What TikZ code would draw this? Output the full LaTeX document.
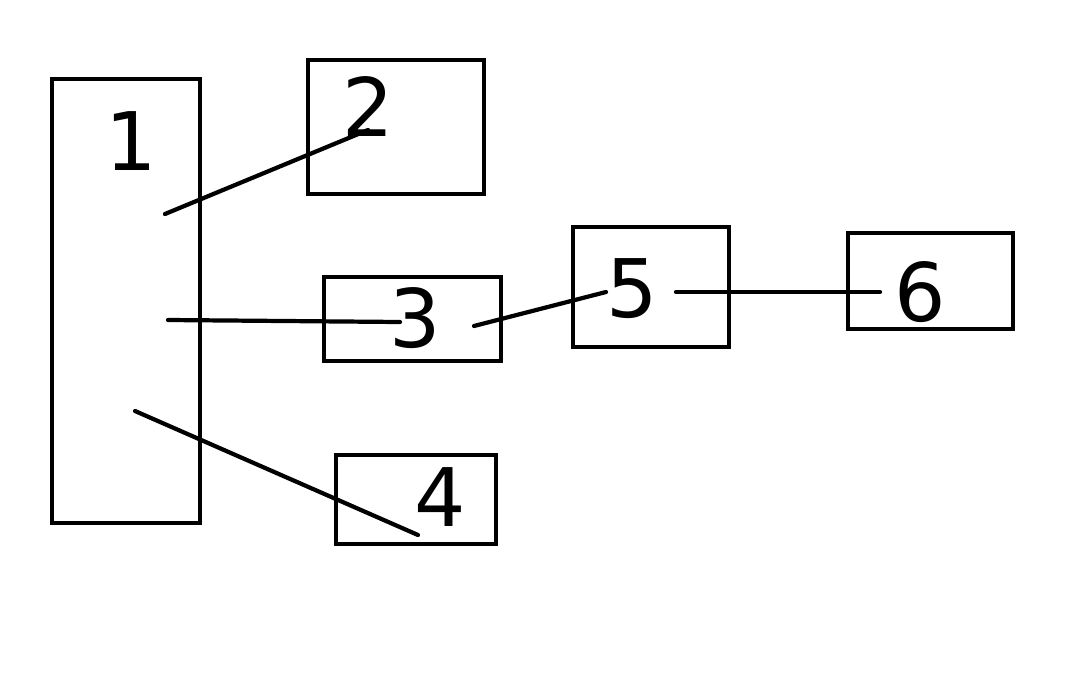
\documentclass[tikz,border=0pt]{standalone}
\usepackage{fontspec}
\setmainfont{DejaVu Sans}

\begin{document}
\begin{tikzpicture}[x=0.02cm,y=-0.02cm,
  box/.style={draw,line width=2.4pt,inner sep=0pt},
  digit/.style={font=\fontsize{46}{46}\selectfont,inner sep=0pt},
  link/.style={line width=2.4pt,line cap=round}]
\useasboundingbox (0,0) rectangle (1083,700);
% boxes: name/centre x/centre y/width/height
\foreach \n/\x/\y/\w/\h in {1/126/301/148/444, 2/396/127/176/134, 3/412.5/319/177/84,
  4/416/499.5/160/89, 5/651/287/156/120, 6/930.5/281/165/96}
  \node[box,minimum width=\w*0.02cm,minimum height=\h*0.02cm] (b\n) at (\x,\y) {};
% digits
\foreach \n/\x/\y in {1/131/141, 2/368/107, 3/415/318, 4/440/497, 5/632/289, 6/920/292}
  \node[digit] (d\n) at (\x,\y) {\n};
% line ends
\coordinate (s2) at (165,214);
\coordinate (t2) at (368,130);
\coordinate (s3) at (168,320);
\coordinate (t3) at (400,322);
\coordinate (s4) at (135,411);
\coordinate (t4) at (418,535);
\coordinate (s5) at (474,326);
\coordinate (t5) at (606,292);
\coordinate (s6) at (676,292);
\coordinate (t6) at (880,292);
\foreach \n in {2,...,6}
  \draw[link] (s\n) -- (t\n);
\end{tikzpicture}
\end{document}
